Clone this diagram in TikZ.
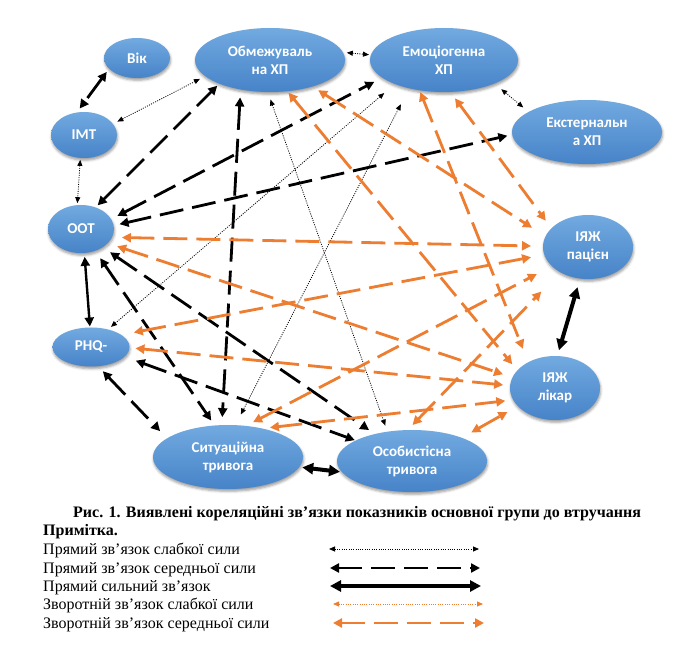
\documentclass[tikz,border=0pt]{standalone}
\usepackage{fontspec}
\setmainfont{Liberation Serif}
\newfontfamily\nodefont{Carlito}
\usetikzlibrary{arrows.meta,shapes.geometric,shadows.blur}
\definecolor{orng}{HTML}{ED7D31}
\definecolor{btop}{HTML}{72AAE0}
\definecolor{bbot}{HTML}{4683C8}
\begin{document}
\begin{tikzpicture}[x=1pt,y=-1pt,
  ell/.style={ellipse, inner sep=0pt, outer sep=0pt, top color=btop, bottom color=bbot,
    text=white, align=center, font=\nodefont\bfseries\fontsize{15}{18}\selectfont,
    blur shadow={shadow xshift=0.6pt, shadow yshift=-2.2pt, shadow blur radius=2.5pt, shadow opacity=40}},
  conW/.style={draw=black, line width=0.8pt, dash pattern=on 1pt off 1.3pt,
    {Triangle[length=6pt,width=5pt]}-{Triangle[length=6pt,width=5pt]}},
  conM/.style={draw=black, line width=2.8pt, dash pattern=on 24pt off 9pt,
    {Triangle[length=9pt,width=9pt]}-{Triangle[length=9pt,width=9pt]}},
  conS/.style={draw=black, line width=2.4pt,
    {Triangle[length=9pt,width=9pt]}-{Triangle[length=9pt,width=9pt]}},
  conST/.style={draw=black, line width=4pt,
    {Triangle[length=11pt,width=11pt]}-{Triangle[length=11pt,width=11pt]}},
  conO/.style={draw=orng, line width=2.8pt, dash pattern=on 24pt off 9pt,
    {Triangle[length=9pt,width=9pt]}-{Triangle[length=9pt,width=9pt]}},
  conOW/.style={draw=orng, line width=0.8pt, dash pattern=on 1pt off 1.3pt,
    {Triangle[length=6pt,width=5pt]}-{Triangle[length=6pt,width=5pt]}},
  sh/.style 2 args={shorten <=#1pt, shorten >=#2pt},
  legtext/.style={anchor=base west, inner sep=0pt, font=\fontsize{16}{18}\selectfont}
]
\useasboundingbox (0,0) rectangle (686,647);

% nodes
\node[ell, minimum width=66pt, minimum height=40pt] (vik) at (137,58) {Вік};
\node[ell, minimum width=150pt, minimum height=64pt] (obm) at (270,60) {Обмежуваль\\на ХП};
\node[ell, minimum width=148pt, minimum height=64pt] (emo) at (444,60) {Емоціогенна\\ХП};
\node[ell, minimum width=150pt, minimum height=64pt] (ext) at (587,132) {Екстернальн\\а ХП};
\node[ell, minimum width=66pt, minimum height=46pt] (imt) at (84,135) {ІМТ};
\node[ell, minimum width=66pt, minimum height=48pt] (oot) at (81,229) {ООТ};
\node[ell, minimum width=77pt, minimum height=39pt] (phq) at (91,347) {PHQ-};
\node[ell, minimum width=150pt, minimum height=64pt] (sit) at (228,457) {Ситуаційна\\тривога};
\node[ell, minimum width=150pt, minimum height=62pt] (osob) at (412,461) {Особистісна\\тривога};
\node[ell, minimum width=90pt, minimum height=64pt] (pac) at (588,247) {ІЯЖ\\пацієн};
\node[ell, minimum width=90pt, minimum height=64pt] (lik) at (555,388) {ІЯЖ\\лікар};

% weak direct (dotted)
\draw[conW, sh={5}{6}] (imt.21) -- (obm.194);
\draw[conW, sh={2}{2}] (imt.261) -- (oot.99);
\draw[conW, sh={4}{2}] (obm.6) -- (emo.176);
\draw[conW, sh={9}{7}] (emo.335) -- (ext.161);
\draw[conW, sh={8}{6.5}] (obm.266) -- (osob.130);
\draw[conW, sh={18}{12}] (emo.219) -- (sit.77);
\draw[conW, sh={14}{4}] (emo.206) -- (phq.46);

% medium direct (dashed)
\draw[conM, sh={4}{5}] (vik.201) -- (imt.108);
\draw[conM, sh={3}{3}] (oot.56) -- (obm.205);
\draw[conM, sh={7}{9}] (oot.18) -- (emo.196);
\draw[conM, sh={6}{5}] (oot.6) -- (ext.182);
\draw[conM, sh={8}{8}] (obm.225) -- (sit.101);
\draw[conM, sh={9}{6}] (oot.303) -- (sit.113);
\draw[conM, sh={9}{7}] (oot.320) -- (osob.144);
\draw[conM, sh={7}{10}] (phq.290) -- (sit.163);
\draw[conM, sh={12}{1}] (phq.344) -- (osob.160);

% solid
\draw[conS, sh={4}{1}] (oot.278) -- (phq.93);
\draw[conST, sh={3}{2}] (sit.352) -- (osob.189);
\draw[conST, sh={9}{6}] (pac.256) -- (lik.86);

% medium inverse (orange dashed)
\draw[conO, sh={7}{16}] (obm.328) -- (pac.166);
\draw[conO, sh={2}{8}] (obm.299) -- (lik.155);
\draw[conO, sh={8}{9.5}] (emo.281) -- (pac.153);
\draw[conO, sh={2}{14.5}] (emo.231) -- (lik.136);
\draw[conO, sh={10}{12}] (oot.345) -- (pac.179);
\draw[conO, sh={10}{10}] (oot.332) -- (lik.166);
\draw[conO, sh={13}{13.5}] (phq.22) -- (pac.190);
\draw[conO, sh={6}{7}] (phq.359) -- (lik.177);
\draw[conO, sh={8}{17}] (sit.60) -- (pac.208);
\draw[conO, sh={8}{8}] (sit.40) -- (lik.196);
\draw[conO, sh={7}{27}] (osob.98) -- (pac.222);
\draw[conO, sh={11}{12}] (osob.25) -- (lik.206);

% caption and legend
\node[legtext, font=\bfseries\fontsize{16}{18}\selectfont] (cap) at (73,517) {Рис. 1. Виявлені кореляційні зв’язки показників основної групи до втручання};
\node[legtext, font=\bfseries\fontsize{16}{18}\selectfont] (note) at (43,535) {Примітка.};
\node[legtext] (lg1) at (43,554) {Прямий звʼязок слабкої сили};
\node[legtext] (lg2) at (43,573) {Прямий звʼязок середньої сили};
\node[legtext] (lg3) at (43,591) {Прямий сильний звʼязок};
\node[legtext] (lg4) at (43,609) {Зворотній звʼязок слабкої сили};
\node[legtext] (lg5) at (43,628) {Зворотній звʼязок середньої сили};

\coordinate (a1) at (329,549); \coordinate (b1) at (479,549);
\coordinate (a2) at (330,568); \coordinate (b2) at (480,568);
\coordinate (a3) at (330,586); \coordinate (b3) at (481,586);
\coordinate (a4) at (333,604); \coordinate (b4) at (483,604);
\coordinate (a5) at (333,623); \coordinate (b5) at (484,623);
\draw[conW] (a1) -- (b1);
\draw[conM] (a2) -- (b2);
\draw[conST] (a3) -- (b3);
\draw[conOW] (a4) -- (b4);
\draw[conO] (a5) -- (b5);
\end{tikzpicture}
\end{document}
